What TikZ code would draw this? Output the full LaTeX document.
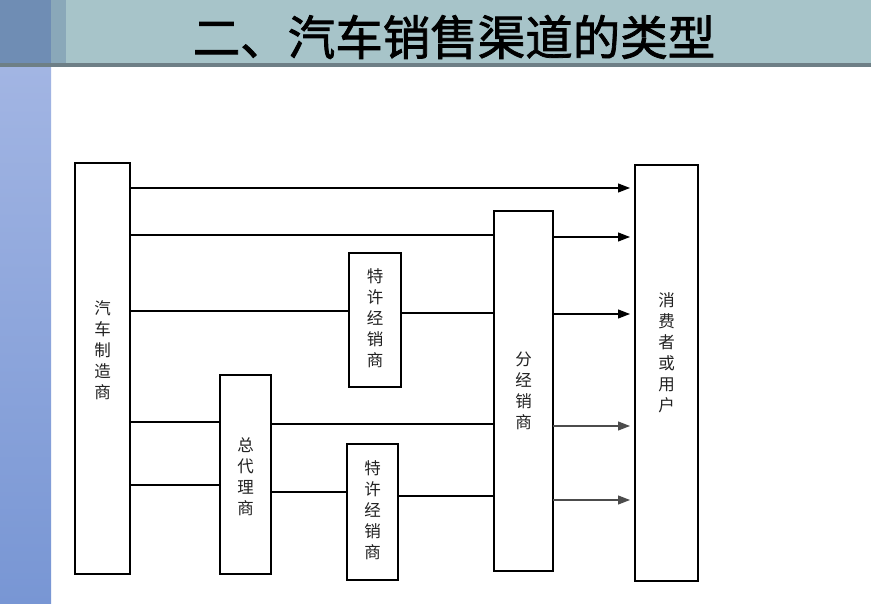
\documentclass[tikz,border=0pt]{standalone}
\usepackage{fontspec}
\newfontfamily\cjk{Noto Sans CJK SC}
\newfontfamily\cjktitle[FakeBold=1.6]{Noto Sans CJK SC}
\usetikzlibrary{arrows.meta}
\definecolor{hdr}{HTML}{A7C4C9}
\definecolor{hdrdark}{HTML}{6F8DB4}
\definecolor{hdrmid}{HTML}{8AA8B9}
\definecolor{hdrline}{HTML}{6E7F86}
\definecolor{stripTop}{HTML}{A2B5E3}
\definecolor{stripBot}{HTML}{7896D4}
\definecolor{txt}{HTML}{222222}
\tikzset{
  box/.style={draw=black, fill=white, line width=2.6pt, outer sep=0pt, inner sep=0pt},
  lbl/.style={font=\cjk\fontsize{16.5}{21}\selectfont, text=txt, align=center, inner sep=0pt},
  thinln/.style={line width=1.2pt, draw=black},
  thickln/.style={line width=2.3pt, draw=black},
  arr/.style={line width=1.2pt, -{Triangle[length=12pt,width=9pt]}, shorten >=5pt},
}
\begin{document}
\begin{tikzpicture}[x=1pt,y=-1pt]
\useasboundingbox (0,0) rectangle (871,604);
% background
\fill[white] (0,0) rectangle (871,604);
\shade[top color=stripTop, bottom color=stripBot] (0,67) rectangle (51,604);
\fill[hdr] (0,0) rectangle (871,63);
\fill[hdrmid] (51,0) rectangle (66,63);
\fill[hdrdark] (0,0) rectangle (51,63);
\fill[hdrline] (0,63) rectangle (871,67);
\node[font=\cjktitle\fontsize{47.5}{50}\selectfont, text=black, inner sep=0pt] (title) at (454,37) {二、汽车销售渠道的类型};
% boxes
\node[box, minimum width=55pt, minimum height=411pt] (mfr) at (102.5,368.5) {};
\node[box, minimum width=51pt, minimum height=199pt] (agent) at (245.5,474.5) {};
\node[box, minimum width=52pt, minimum height=134pt] (fr1) at (375,320) {};
\node[box, minimum width=51pt, minimum height=136pt] (fr2) at (372.5,512) {};
\node[box, minimum width=59pt, minimum height=360pt] (dist) at (523.5,391) {};
\node[box, minimum width=63pt, minimum height=416pt] (cons) at (666.5,373) {};
% labels
\node[lbl] (mfrlbl) at ([yshift=18pt]mfr.center) {汽\\车\\制\\造\\商};
\node[lbl] (agentlbl) at ([yshift=-2pt]agent.center) {总\\代\\理\\商};
\node[lbl] (fr1lbl) at ([yshift=2pt]fr1.center) {特\\许\\经\\销\\商};
\node[lbl] (fr2lbl) at ([yshift=2pt]fr2.center) {特\\许\\经\\销\\商};
\node[lbl] (distlbl) at (dist.center) {分\\经\\销\\商};
\node[lbl] (conslbl) at ([yshift=20pt]cons.center) {消\\费\\者\\或\\用\\户};
% connectors
\draw[arr] (mfr.east |- 0,188) -- (cons.west |- 0,188);
\draw[thickln] (mfr.east |- 0,235) -- (dist.west |- 0,235);
\draw[arr] (dist.east |- 0,237) -- (cons.west |- 0,237);
\draw[thickln] (mfr.east |- 0,311) -- (fr1.west |- 0,311);
\draw[thickln] (fr1.east |- 0,313) -- (dist.west |- 0,313);
\draw[arr] (dist.east |- 0,314) -- (cons.west |- 0,314);
\draw[thickln] (mfr.east |- 0,422) -- (agent.west |- 0,422);
\draw[thickln] (agent.east |- 0,424) -- (dist.west |- 0,424);
\draw[arr, draw=black!70, fill=black] (dist.east |- 0,426) -- (cons.west |- 0,426);
\draw[thickln] (mfr.east |- 0,485) -- (agent.west |- 0,485);
\draw[thickln] (agent.east |- 0,492) -- (fr2.west |- 0,492);
\draw[thickln] (fr2.east |- 0,496) -- (dist.west |- 0,496);
\draw[arr, draw=black!70, fill=black] (dist.east |- 0,500) -- (cons.west |- 0,500);
\end{tikzpicture}
\end{document}
